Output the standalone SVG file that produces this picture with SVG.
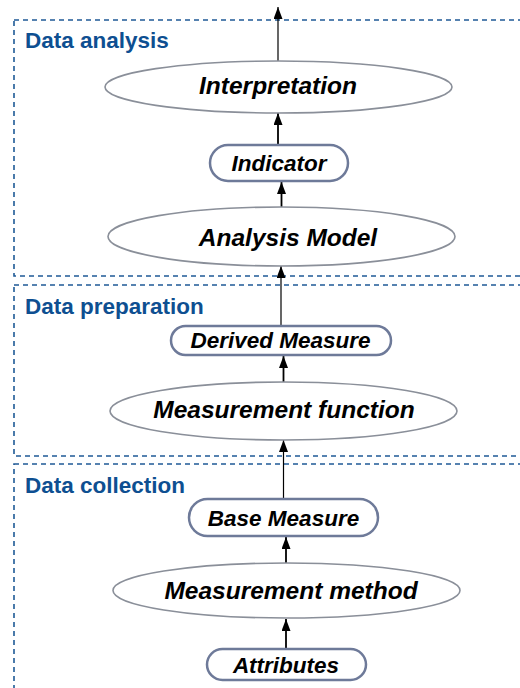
<svg xmlns="http://www.w3.org/2000/svg" width="520" height="688" viewBox="0 0 520 688">
<style>
.zone{fill:none;stroke:#1f5a96;stroke-width:1.6;stroke-dasharray:5,4}
.zl{font-family:"Liberation Sans",Arial,sans-serif;font-weight:bold;font-size:22.5px;fill:#0e4f91}
.el{fill:#fff;stroke:#8a8f99;stroke-width:1.6}
.rr{fill:#fff;stroke:#6e7a99;stroke-width:2.5}
.t{font-family:"Liberation Sans",Arial,sans-serif;font-weight:bold;font-style:italic;fill:#000;text-anchor:middle}
.te{font-size:24.5px}
.tr{font-size:22.5px}
.c{stroke:#000;fill:none;marker-end:url(#ah)}
</style>
<defs>
<marker id="ah" markerUnits="userSpaceOnUse" markerWidth="12" markerHeight="9" refX="12" refY="4.5" orient="auto" viewBox="0 0 12 9">
<path d="M0,0 L12,4.5 L0,9 z" fill="#000"/>
</marker>
</defs>
<g id="zones">
<rect class="zone" x="14" y="20" width="530" height="256"/>
<rect class="zone" x="14" y="285" width="530" height="171"/>
<rect class="zone" x="14" y="464" width="530" height="240"/>
<text class="zl" x="25" y="48">Data analysis</text>
<text class="zl" x="25" y="314">Data preparation</text>
<text class="zl" x="25" y="493">Data collection</text>
</g>
<g id="connectors">
<line class="c" x1="278" y1="61" x2="278" y2="7" stroke-width="1.2"/>
<line class="c" x1="278" y1="145" x2="278" y2="113" stroke-width="1.8"/>
<line class="c" x1="281.5" y1="207" x2="281.5" y2="182" stroke-width="1.8"/>
<line class="c" x1="281" y1="326" x2="281" y2="266" stroke-width="1.2"/>
<line class="c" x1="283.5" y1="382" x2="283.5" y2="356" stroke-width="1.8"/>
<line class="c" x1="283.5" y1="499" x2="283.5" y2="440" stroke-width="1.2"/>
<line class="c" x1="286" y1="563" x2="286" y2="537" stroke-width="1.8"/>
<line class="c" x1="286" y1="649" x2="286" y2="619" stroke-width="1.8"/>
</g>
<g id="interpretation">
<ellipse class="el" cx="278.5" cy="87" rx="173.5" ry="26"/>
<text class="t te" x="278" y="94">Interpretation</text>
</g>
<g id="indicator">
<rect class="rr" x="210" y="145" width="138" height="36" rx="18"/>
<text class="t tr" x="279" y="171">Indicator</text>
</g>
<g id="analysis-model">
<ellipse class="el" cx="281.5" cy="236.5" rx="173.5" ry="29.5"/>
<text class="t te" x="288" y="245.5">Analysis Model</text>
</g>
<g id="derived-measure">
<rect class="rr" x="171" y="326" width="220" height="29" rx="14.5"/>
<text class="t tr" x="280.5" y="348">Derived Measure</text>
</g>
<g id="measurement-function">
<ellipse class="el" cx="283.5" cy="411" rx="173.5" ry="29"/>
<text class="t te" x="284" y="418">Measurement function</text>
</g>
<g id="base-measure">
<rect class="rr" x="189" y="499" width="189" height="37" rx="18.5"/>
<text class="t tr" x="283.5" y="526">Base Measure</text>
</g>
<g id="measurement-method">
<ellipse class="el" cx="286.5" cy="590.5" rx="173.5" ry="27.5"/>
<text class="t te" x="291" y="599">Measurement method</text>
</g>
<g id="attributes">
<rect class="rr" x="207" y="649" width="159" height="31" rx="15.5"/>
<text class="t tr" x="286" y="673">Attributes</text>
</g>
</svg>
